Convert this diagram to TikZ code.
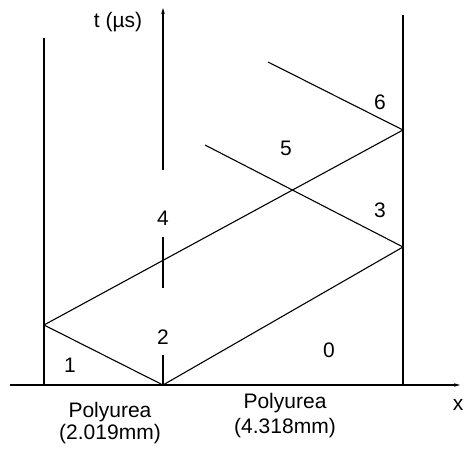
\documentclass[tikz,border=0pt]{standalone}
\usepackage{fontspec}
\setmainfont{Liberation Sans}
\usetikzlibrary{arrows.meta, positioning}

\begin{document}
\begin{tikzpicture}[
        x=1pt, y=-1pt,
        wave/.style={line width=1.1pt, draw=black},
        axis/.style={line width=1.1pt, draw=black, -{Stealth[length=6pt,width=3.5pt]}},
        lbl/.style={font=\fontsize{21}{24}\selectfont, inner sep=0pt},
        matl/.style={font=\fontsize{21}{22}\selectfont, align=center, inner sep=0pt}
    ]
    \useasboundingbox (0,0) rectangle (465,455);

    % axes and interfaces
    \coordinate (xstart) at (10,385);
    \coordinate (xend) at (460,385);
    \coordinate (leftbot) at (44,385);
    \coordinate (lefttop) at (44,38);
    \coordinate (imp) at (163,385);
    \coordinate (rightbot) at (403,385);
    \coordinate (righttop) at (403,15);

    % reflection points
    \coordinate (refl) at (44,325);
    \coordinate (hitA) at (403,247);
    \coordinate (hitB) at (403,130);
    \coordinate (endA) at (205,145);
    \coordinate (endB) at (268,62);

    \draw [axis] (xstart) -- (xend);
    \draw [wave] (leftbot) -- (lefttop);
    \draw [wave] (rightbot) -- (righttop);

    % t axis, broken at the labels
    \draw [wave] (imp) -- (163,355);
    \draw [wave] (163,288) -- (163,237);
    \draw [axis] (163,170) -- (163,8);

    % waves
    \draw [wave] (refl) -- (imp);
    \draw [wave] (imp) -- (hitA);
    \draw [wave] (refl) -- (hitB);
    \draw [wave] (hitA) -- (endA);
    \draw [wave] (hitB) -- (endB);

    % labels
    \node (tlab) [lbl] at (118,22) {t (µs)};
    \node (xlab) [lbl] at (458,405) {x};
    \node (r0) [lbl] at (329,350) {0};
    \node (r1) [lbl] at (70,365) {1};
    \node (r2) [lbl] at (163,337) {2};
    \node (r3) [lbl] at (380,210) {3};
    \node (r4) [lbl] at (163,218) {4};
    \node (r5) [lbl] at (286,148) {5};
    \node (r6) [lbl] at (380,102) {6};

    \node (layA) [matl] at (110,423) {Polyurea\\(2.019mm)};
    \node (layB) [matl, font=\fontsize{21}{25}\selectfont] at (285,416) {Polyurea\\(4.318mm)};

\end{tikzpicture}
\end{document}
